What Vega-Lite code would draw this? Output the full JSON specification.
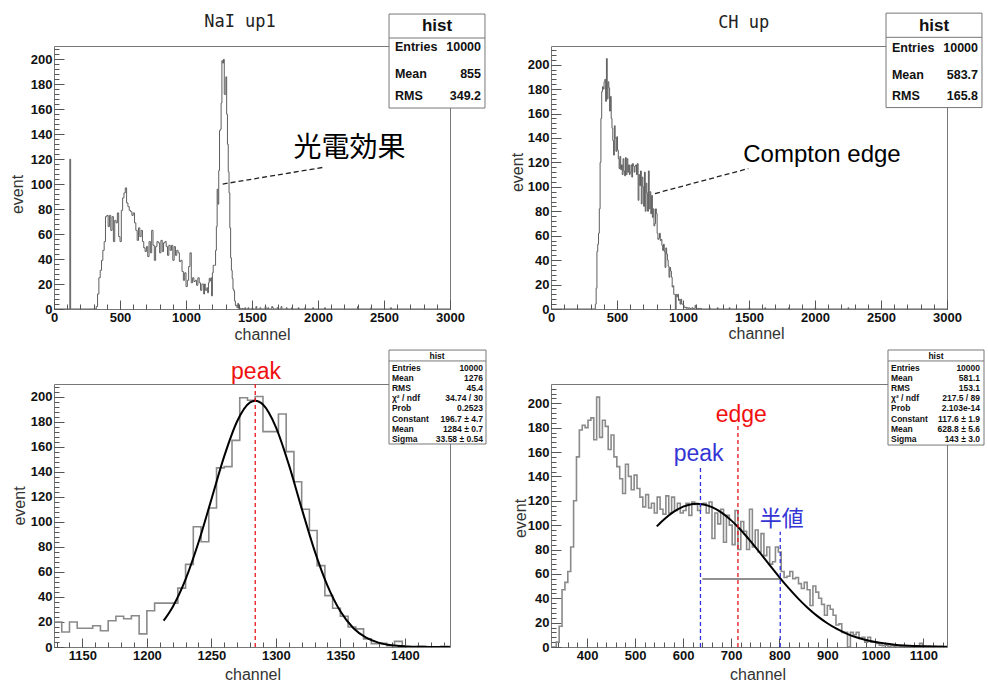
{
"$schema":"https://vega.github.io/schema/vega-lite/v6.json",
"background":"white",
"padding":{"left":8,"top":12,"right":0,"bottom":0},
"datasets":{
"nai":[{"x":0,"n":0},{"x":120,"n":120},{"x":126,"n":0},{"x":320,"n":2},{"x":330,"n":12},{"x":340,"n":25},{"x":350,"n":31},{"x":360,"n":39},{"x":370,"n":47},{"x":380,"n":54},{"x":390,"n":74},{"x":400,"n":75},{"x":410,"n":66},{"x":420,"n":75},{"x":430,"n":63},{"x":440,"n":74},{"x":450,"n":54},{"x":460,"n":71},{"x":470,"n":69},{"x":480,"n":77},{"x":490,"n":58},{"x":500,"n":54},{"x":510,"n":79},{"x":520,"n":89},{"x":530,"n":93},{"x":540,"n":97},{"x":550,"n":85},{"x":560,"n":82},{"x":570,"n":79},{"x":580,"n":78},{"x":590,"n":75},{"x":600,"n":77},{"x":610,"n":69},{"x":620,"n":63},{"x":630,"n":55},{"x":640,"n":65},{"x":650,"n":58},{"x":660,"n":63},{"x":670,"n":54},{"x":680,"n":49},{"x":690,"n":46},{"x":700,"n":50},{"x":710,"n":42},{"x":720,"n":54},{"x":730,"n":45},{"x":740,"n":63},{"x":750,"n":51},{"x":760,"n":39},{"x":770,"n":50},{"x":780,"n":54},{"x":790,"n":53},{"x":800,"n":45},{"x":810,"n":55},{"x":820,"n":46},{"x":830,"n":53},{"x":840,"n":54},{"x":850,"n":50},{"x":860,"n":43},{"x":870,"n":51},{"x":880,"n":47},{"x":890,"n":51},{"x":900,"n":39},{"x":910,"n":50},{"x":920,"n":43},{"x":930,"n":47},{"x":940,"n":45},{"x":950,"n":38},{"x":960,"n":39},{"x":970,"n":30},{"x":980,"n":23},{"x":990,"n":29},{"x":1000,"n":18},{"x":1010,"n":23},{"x":1020,"n":34},{"x":1030,"n":45},{"x":1040,"n":21},{"x":1050,"n":25},{"x":1060,"n":22},{"x":1070,"n":23},{"x":1080,"n":19},{"x":1090,"n":25},{"x":1100,"n":21},{"x":1110,"n":15},{"x":1120,"n":20},{"x":1128,"n":20},{"x":1134,"n":12},{"x":1140,"n":20},{"x":1146,"n":15},{"x":1152,"n":15},{"x":1158,"n":17},{"x":1164,"n":13},{"x":1170,"n":21},{"x":1176,"n":24.5},{"x":1182,"n":22.5},{"x":1188,"n":25},{"x":1194,"n":10.5},{"x":1200,"n":29},{"x":1206,"n":35},{"x":1212,"n":35},{"x":1218,"n":35},{"x":1224,"n":47},{"x":1230,"n":66},{"x":1236,"n":96},{"x":1242,"n":84},{"x":1248,"n":111},{"x":1254,"n":143},{"x":1260,"n":144},{"x":1266,"n":165},{"x":1272,"n":199},{"x":1278,"n":197},{"x":1284,"n":200},{"x":1290,"n":172},{"x":1296,"n":172},{"x":1302,"n":186},{"x":1308,"n":156},{"x":1314,"n":132},{"x":1320,"n":110},{"x":1326,"n":93},{"x":1332,"n":65},{"x":1338,"n":41},{"x":1344,"n":31},{"x":1350,"n":24.5},{"x":1356,"n":16},{"x":1362,"n":14.5},{"x":1368,"n":6.5},{"x":1374,"n":2.7},{"x":1380,"n":3},{"x":1386,"n":1},{"x":1392,"n":4.5},{"x":1398,"n":0.5},{"x":1404,"n":0},{"x":1410,"n":0.5},{"x":1416,"n":0},{"x":1428,"n":0.5},{"x":1434,"n":0},{"x":1446,"n":1},{"x":1452,"n":0},{"x":1470,"n":1},{"x":1476,"n":0},{"x":1500,"n":1},{"x":1506,"n":0},{"x":1530,"n":2},{"x":1536,"n":0},{"x":1560,"n":1},{"x":1566,"n":0},{"x":1600,"n":2},{"x":1606,"n":0},{"x":1620,"n":1},{"x":1626,"n":0},{"x":1650,"n":2},{"x":1656,"n":1},{"x":1662,"n":0},{"x":1690,"n":1},{"x":1696,"n":0},{"x":1720,"n":2},{"x":1726,"n":0},{"x":1760,"n":1},{"x":1766,"n":0},{"x":1800,"n":1},{"x":1806,"n":0},{"x":1850,"n":1},{"x":1856,"n":0},{"x":1900,"n":1},{"x":1906,"n":0},{"x":1960,"n":1},{"x":1966,"n":0},{"x":2050,"n":1},{"x":2056,"n":0},{"x":2300,"n":2},{"x":2306,"n":0},{"x":2400,"n":1},{"x":2406,"n":0},{"x":2550,"n":1},{"x":2556,"n":0},{"x":3000,"n":0}],
"ch":[{"x":0,"n":0},{"x":336,"n":4},{"x":342,"n":17},{"x":348,"n":47},{"x":354,"n":53},{"x":360,"n":62},{"x":366,"n":82},{"x":372,"n":120},{"x":378,"n":156},{"x":384,"n":178},{"x":390,"n":182},{"x":396,"n":180},{"x":402,"n":186},{"x":408,"n":188},{"x":414,"n":170},{"x":420,"n":205},{"x":426,"n":172},{"x":432,"n":186},{"x":438,"n":181},{"x":444,"n":162},{"x":450,"n":174},{"x":456,"n":156},{"x":462,"n":148},{"x":468,"n":138},{"x":474,"n":126},{"x":480,"n":150},{"x":486,"n":140},{"x":492,"n":129},{"x":498,"n":141},{"x":504,"n":130},{"x":510,"n":123},{"x":516,"n":115},{"x":522,"n":125},{"x":528,"n":114},{"x":534,"n":118},{"x":540,"n":110},{"x":546,"n":123},{"x":552,"n":113},{"x":558,"n":109},{"x":564,"n":124},{"x":570,"n":110},{"x":576,"n":123},{"x":582,"n":112},{"x":588,"n":118},{"x":594,"n":110},{"x":600,"n":112},{"x":606,"n":118},{"x":612,"n":108},{"x":618,"n":119},{"x":624,"n":117},{"x":630,"n":112},{"x":636,"n":117},{"x":642,"n":118},{"x":648,"n":110},{"x":654,"n":119},{"x":660,"n":89},{"x":666,"n":110},{"x":672,"n":101},{"x":678,"n":113},{"x":684,"n":86},{"x":690,"n":108},{"x":696,"n":100},{"x":702,"n":84},{"x":708,"n":112},{"x":714,"n":80},{"x":720,"n":103},{"x":726,"n":95},{"x":732,"n":80},{"x":738,"n":113},{"x":744,"n":82},{"x":750,"n":96},{"x":756,"n":78},{"x":762,"n":93},{"x":768,"n":75},{"x":774,"n":82},{"x":780,"n":68},{"x":786,"n":70},{"x":792,"n":82},{"x":798,"n":78},{"x":804,"n":62},{"x":810,"n":57},{"x":816,"n":58},{"x":822,"n":62},{"x":828,"n":56},{"x":834,"n":57},{"x":840,"n":52},{"x":846,"n":48},{"x":852,"n":53},{"x":858,"n":47},{"x":864,"n":34},{"x":870,"n":50},{"x":876,"n":45},{"x":882,"n":40},{"x":888,"n":35},{"x":894,"n":26},{"x":900,"n":34},{"x":906,"n":31},{"x":912,"n":26},{"x":918,"n":18},{"x":924,"n":19},{"x":930,"n":12},{"x":936,"n":12},{"x":942,"n":0},{"x":948,"n":12},{"x":954,"n":10},{"x":960,"n":12},{"x":966,"n":7},{"x":972,"n":8},{"x":978,"n":4},{"x":984,"n":8},{"x":990,"n":4},{"x":996,"n":4},{"x":1002,"n":3},{"x":1008,"n":1.5},{"x":1014,"n":1},{"x":1020,"n":1.5},{"x":1026,"n":0.5},{"x":1032,"n":1},{"x":1038,"n":0.5},{"x":1044,"n":1},{"x":1050,"n":0.5},{"x":1062,"n":0},{"x":1068,"n":1},{"x":1074,"n":0.5},{"x":1080,"n":0},{"x":1086,"n":0.5},{"x":1092,"n":3},{"x":1098,"n":0.5},{"x":1104,"n":0},{"x":1110,"n":0.5},{"x":1116,"n":0},{"x":1122,"n":0.5},{"x":1128,"n":0},{"x":1134,"n":0.5},{"x":1140,"n":0},{"x":1200,"n":1},{"x":1206,"n":0},{"x":1260,"n":1},{"x":1266,"n":0},{"x":1350,"n":1},{"x":1356,"n":0},{"x":1500,"n":1},{"x":1506,"n":0},{"x":1620,"n":1},{"x":1626,"n":0},{"x":1800,"n":1},{"x":1806,"n":0},{"x":2000,"n":1},{"x":2006,"n":0},{"x":2250,"n":1},{"x":2256,"n":0},{"x":3000,"n":0}],
"naifit":[{"x":1213,"f":21.0},{"x":1220,"f":32.0},{"x":1230,"f":54.0},{"x":1240,"f":83.4},{"x":1250,"f":117.8},{"x":1260,"f":152.4},{"x":1270,"f":180.3},{"x":1280,"f":195.3},{"x":1284,"f":196.7},{"x":1290,"f":193.6},{"x":1300,"f":175.6},{"x":1310,"f":145.8},{"x":1320,"f":110.7},{"x":1330,"f":77.0},{"x":1340,"f":49.0},{"x":1350,"f":28.5},{"x":1360,"f":15.2},{"x":1370,"f":7.4},{"x":1380,"f":3.3},{"x":1390,"f":1.35},{"x":1400,"f":0.5},{"x":1410,"f":0.17},{"x":1420,"f":0.05},{"x":1435,"f":0.01}],
"chfit":[{"x":545,"f":99.0},{"x":560,"f":104.7},{"x":580,"f":110.9},{"x":600,"f":115.2},{"x":620,"f":117.4},{"x":628.8,"f":117.6},{"x":640,"f":117.2},{"x":660,"f":114.8},{"x":680,"f":110.3},{"x":700,"f":103.9},{"x":720,"f":96.0},{"x":740,"f":86.9},{"x":760,"f":77.2},{"x":780,"f":67.2},{"x":800,"f":57.4},{"x":820,"f":48.1},{"x":840,"f":39.5},{"x":860,"f":31.8},{"x":880,"f":25.1},{"x":900,"f":19.5},{"x":920,"f":14.8},{"x":940,"f":11.0},{"x":960,"f":8.0},{"x":980,"f":5.76},{"x":1000,"f":4.05},{"x":1020,"f":2.79},{"x":1040,"f":1.89},{"x":1060,"f":1.25},{"x":1080,"f":0.81},{"x":1100,"f":0.52},{"x":1120,"f":0.32},{"x":1149,"f":0.16}]
},
"columns":2,
"spacing":{"row":75,"column":101},
"bounds":"flush",
"concat":[
{
"width":396,"height":263,
"resolve":{"axis":{"x":"independent","y":"independent"}},
"layer":[
{"data":{"name":"nai"},"mark":{"type":"line","interpolate":"step-after","stroke":"#5e5e5e","strokeWidth":1,"clip":true},
 "encoding":{"x":{"field":"x","type":"quantitative","scale":{"domain":[0,3000],"nice":false,"zero":false},"axis":{"orient":"bottom","values":[0,500,1000,1500,2000,2500,3000],"format":"d","tickSize":-9,"labelPadding":11,"title":"channel","titleX":208,"titleY":25,"titleBaseline":"middle"}},
  "y":{"field":"n","type":"quantitative","scale":{"domain":[0,210.7],"nice":false,"zero":false},"axis":{"orient":"left","values":[0,20,40,60,80,100,120,140,160,180,200],"format":"d","tickSize":-10,"labelPadding":12,"title":"event","titleX":-37,"titleY":148,"titleBaseline":"middle","titleAngle":-90}}}},
{"data":{"values":[{"a":2538,"b":3265,"c":161,"d":236.3}]},"mark":{"type":"rect","fill":"white","stroke":"#777","strokeWidth":1},
 "encoding":{"x":{"field":"a","type":"quantitative","scale":{"domain":[0,3000],"nice":false,"zero":false},"axis":{"orient":"bottom","values":[0,100,200,300,400,500,600,700,800,900,1000,1100,1200,1300,1400,1500,1600,1700,1800,1900,2000,2100,2200,2300,2400,2500,2600,2700,2800,2900,3000],"labels":false,"tickSize":-5,"title":null}},"x2":{"field":"b"},
  "y":{"field":"c","type":"quantitative","scale":{"domain":[0,210.7],"nice":false,"zero":false},"axis":{"orient":"left","values":[0,4,8,12,16,20,24,28,32,36,40,44,48,52,56,60,64,68,72,76,80,84,88,92,96,100,104,108,112,116,120,124,128,132,136,140,144,148,152,156,160,164,168,172,176,180,184,188,192,196,200,204,208],"labels":false,"tickSize":-5,"title":null}},"y2":{"field":"d"}}},
{"data":{"values":[{"a":2538,"b":3265,"c":217.1}]},"mark":{"type":"rule","stroke":"#777"},
 "encoding":{"x":{"field":"a","type":"quantitative","scale":{"domain":[0,3000],"nice":false,"zero":false},"axis":null},"x2":{"field":"b"},"y":{"field":"c","type":"quantitative","scale":{"domain":[0,210.7],"nice":false,"zero":false},"axis":null}}},
{"data":{"values":[{"a":2902,"c":226.7,"t":"hist"}]},"mark":{"type":"text","font":"Liberation Sans","fontWeight":"bold","fontSize":17,"align":"center","baseline":"middle","color":"#111"},
 "encoding":{"x":{"field":"a","type":"quantitative","scale":{"domain":[0,3000],"nice":false,"zero":false},"axis":null},"y":{"field":"c","type":"quantitative","scale":{"domain":[0,210.7],"nice":false,"zero":false},"axis":null},"text":{"field":"t"}}},
{"data":{"values":[{"a":2583,"c":209.9,"t":"Entries"},{"a":2583,"c":188.2,"t":"Mean"},{"a":2583,"c":170.6,"t":"RMS"}]},"mark":{"type":"text","font":"Liberation Sans","fontWeight":"bold","fontSize":12.5,"align":"left","baseline":"middle","color":"#111"},
 "encoding":{"x":{"field":"a","type":"quantitative","scale":{"domain":[0,3000],"nice":false,"zero":false},"axis":null},"y":{"field":"c","type":"quantitative","scale":{"domain":[0,210.7],"nice":false,"zero":false},"axis":null},"text":{"field":"t"}}},
{"data":{"values":[{"a":3235,"c":209.9,"t":"10000"},{"a":3235,"c":188.2,"t":"855"},{"a":3235,"c":170.6,"t":"349.2"}]},"mark":{"type":"text","font":"Liberation Sans","fontWeight":"bold","fontSize":12.5,"align":"right","baseline":"middle","color":"#111"},
 "encoding":{"x":{"field":"a","type":"quantitative","scale":{"domain":[0,3000],"nice":false,"zero":false},"axis":null},"y":{"field":"c","type":"quantitative","scale":{"domain":[0,210.7],"nice":false,"zero":false},"axis":null},"text":{"field":"t"}}},
{"data":{"values":[{"a":1409,"c":229.9,"t":"NaI up1"}]},"mark":{"type":"text","font":"DejaVu Sans Mono","fontSize":17,"align":"center","baseline":"middle","color":"#222"},
 "encoding":{"x":{"field":"a","type":"quantitative","scale":{"domain":[0,3000],"nice":false,"zero":false},"axis":null},"y":{"field":"c","type":"quantitative","scale":{"domain":[0,210.7],"nice":false,"zero":false},"axis":null},"text":{"field":"t"}}},
{"data":{"values":[{"a":1278,"c":100.1,"b":2040,"d":113.5}]},"mark":{"type":"rule","stroke":"#222","strokeWidth":1.3,"strokeDash":[5,3]},
 "encoding":{"x":{"field":"a","type":"quantitative","scale":{"domain":[0,3000],"nice":false,"zero":false},"axis":null},"x2":{"field":"b"},"y":{"field":"c","type":"quantitative","scale":{"domain":[0,210.7],"nice":false,"zero":false},"axis":null},"y2":{"field":"d"}}},
{"data":{"values":[{"a":2238,"c":128.4,"t":"光電効果"}]},"mark":{"type":"text","font":"Noto Sans CJK JP","fontSize":28,"align":"center","baseline":"middle","color":"#000"},
 "encoding":{"x":{"field":"a","type":"quantitative","scale":{"domain":[0,3000],"nice":false,"zero":false},"axis":null},"y":{"field":"c","type":"quantitative","scale":{"domain":[0,210.7],"nice":false,"zero":false},"axis":null},"text":{"field":"t"}}}
]
},
{
"width":396,"height":263,
"resolve":{"axis":{"x":"independent","y":"independent"}},
"layer":[
{"data":{"name":"ch"},"mark":{"type":"line","interpolate":"step-after","stroke":"#5e5e5e","strokeWidth":1,"clip":true},
 "encoding":{"x":{"field":"x","type":"quantitative","scale":{"domain":[0,3000],"nice":false,"zero":false},"axis":{"orient":"bottom","values":[0,500,1000,1500,2000,2500,3000],"format":"d","tickSize":-9,"labelPadding":11,"title":"channel","titleX":205,"titleY":24,"titleBaseline":"middle"}},
  "y":{"field":"n","type":"quantitative","scale":{"domain":[0,215.3],"nice":false,"zero":false},"axis":{"orient":"left","values":[0,20,40,60,80,100,120,140,160,180,200],"format":"d","tickSize":-10,"labelPadding":12,"title":"event","titleX":-34,"titleY":126,"titleBaseline":"middle","titleAngle":-90}}}},
{"data":{"values":[{"a":2538,"b":3265,"c":164.9,"d":242.2}]},"mark":{"type":"rect","fill":"white","stroke":"#777","strokeWidth":1},
 "encoding":{"x":{"field":"a","type":"quantitative","scale":{"domain":[0,3000],"nice":false,"zero":false},"axis":{"orient":"bottom","values":[0,100,200,300,400,500,600,700,800,900,1000,1100,1200,1300,1400,1500,1600,1700,1800,1900,2000,2100,2200,2300,2400,2500,2600,2700,2800,2900,3000],"labels":false,"tickSize":-5,"title":null}},"x2":{"field":"b"},
  "y":{"field":"c","type":"quantitative","scale":{"domain":[0,215.3],"nice":false,"zero":false},"axis":{"orient":"left","values":[0,4,8,12,16,20,24,28,32,36,40,44,48,52,56,60,64,68,72,76,80,84,88,92,96,100,104,108,112,116,120,124,128,132,136,140,144,148,152,156,160,164,168,172,176,180,184,188,192,196,200,204,208,212],"labels":false,"tickSize":-5,"title":null}},"y2":{"field":"d"}}},
{"data":{"values":[{"a":2538,"b":3265,"c":222.4}]},"mark":{"type":"rule","stroke":"#777"},
 "encoding":{"x":{"field":"a","type":"quantitative","scale":{"domain":[0,3000],"nice":false,"zero":false},"axis":null},"x2":{"field":"b"},"y":{"field":"c","type":"quantitative","scale":{"domain":[0,215.3],"nice":false,"zero":false},"axis":null}}},
{"data":{"values":[{"a":2902,"c":231.5,"t":"hist"}]},"mark":{"type":"text","font":"Liberation Sans","fontWeight":"bold","fontSize":17,"align":"center","baseline":"middle","color":"#111"},
 "encoding":{"x":{"field":"a","type":"quantitative","scale":{"domain":[0,3000],"nice":false,"zero":false},"axis":null},"y":{"field":"c","type":"quantitative","scale":{"domain":[0,215.3],"nice":false,"zero":false},"axis":null},"text":{"field":"t"}}},
{"data":{"values":[{"a":2583,"c":213.4,"t":"Entries"},{"a":2583,"c":191.2,"t":"Mean"},{"a":2583,"c":174.0,"t":"RMS"}]},"mark":{"type":"text","font":"Liberation Sans","fontWeight":"bold","fontSize":12.5,"align":"left","baseline":"middle","color":"#111"},
 "encoding":{"x":{"field":"a","type":"quantitative","scale":{"domain":[0,3000],"nice":false,"zero":false},"axis":null},"y":{"field":"c","type":"quantitative","scale":{"domain":[0,215.3],"nice":false,"zero":false},"axis":null},"text":{"field":"t"}}},
{"data":{"values":[{"a":3235,"c":213.4,"t":"10000"},{"a":3235,"c":191.2,"t":"583.7"},{"a":3235,"c":174.0,"t":"165.8"}]},"mark":{"type":"text","font":"Liberation Sans","fontWeight":"bold","fontSize":12.5,"align":"right","baseline":"middle","color":"#111"},
 "encoding":{"x":{"field":"a","type":"quantitative","scale":{"domain":[0,3000],"nice":false,"zero":false},"axis":null},"y":{"field":"c","type":"quantitative","scale":{"domain":[0,215.3],"nice":false,"zero":false},"axis":null},"text":{"field":"t"}}},
{"data":{"values":[{"a":1460,"c":233.9,"t":"CH up"}]},"mark":{"type":"text","font":"DejaVu Sans Mono","fontSize":17,"align":"center","baseline":"middle","color":"#222"},
 "encoding":{"x":{"field":"a","type":"quantitative","scale":{"domain":[0,3000],"nice":false,"zero":false},"axis":null},"y":{"field":"c","type":"quantitative","scale":{"domain":[0,215.3],"nice":false,"zero":false},"axis":null},"text":{"field":"t"}}},
{"data":{"values":[{"a":788,"c":94.5,"b":1495,"d":115.0}]},"mark":{"type":"rule","stroke":"#222","strokeWidth":1.3,"strokeDash":[5,3]},
 "encoding":{"x":{"field":"a","type":"quantitative","scale":{"domain":[0,3000],"nice":false,"zero":false},"axis":null},"x2":{"field":"b"},"y":{"field":"c","type":"quantitative","scale":{"domain":[0,215.3],"nice":false,"zero":false},"axis":null},"y2":{"field":"d"}}},
{"data":{"values":[{"a":2053,"c":126.3,"t":"Compton edge"}]},"mark":{"type":"text","font":"Liberation Sans","fontSize":24,"align":"center","baseline":"middle","color":"#000"},
 "encoding":{"x":{"field":"a","type":"quantitative","scale":{"domain":[0,3000],"nice":false,"zero":false},"axis":null},"y":{"field":"c","type":"quantitative","scale":{"domain":[0,215.3],"nice":false,"zero":false},"axis":null},"text":{"field":"t"}}}
]
},
{
"width":396,"height":263,
"resolve":{"axis":{"x":"independent","y":"independent"}},
"layer":[
{"data":{"name":"nai"},"mark":{"type":"line","interpolate":"step-after","stroke":"#8a8a8a","strokeWidth":1.6,"clip":true},
 "encoding":{"x":{"field":"x","type":"quantitative","scale":{"domain":[1128,1435],"nice":false,"zero":false},"axis":{"orient":"bottom","values":[1150,1200,1250,1300,1350,1400],"format":"d","tickSize":-9,"labelPadding":11,"title":"channel","titleX":198.5,"titleY":27,"titleBaseline":"middle"}},
  "y":{"field":"n","type":"quantitative","scale":{"domain":[0,210],"nice":false,"zero":false},"axis":{"orient":"left","values":[0,20,40,60,80,100,120,140,160,180,200],"format":"d","tickSize":-10,"labelPadding":12,"title":"event","titleX":-35,"titleY":121.5,"titleBaseline":"middle","titleAngle":-90}}}},
{"data":{"name":"naifit"},"mark":{"type":"line","interpolate":"monotone","stroke":"#000","strokeWidth":2,"clip":true},
 "encoding":{"x":{"field":"x","type":"quantitative","scale":{"domain":[1128,1435],"nice":false,"zero":false},"axis":null},"y":{"field":"f","type":"quantitative","scale":{"domain":[0,210],"nice":false,"zero":false},"axis":null}}},
{"data":{"values":[{"a":1284,"c":0,"d":211}]},"mark":{"type":"rule","stroke":"#e8141c","strokeWidth":1.3,"strokeDash":[4,3]},
 "encoding":{"x":{"field":"a","type":"quantitative","scale":{"domain":[1128,1435],"nice":false,"zero":false},"axis":null},"y":{"field":"c","type":"quantitative","scale":{"domain":[0,210],"nice":false,"zero":false},"axis":null},"y2":{"field":"d"}}},
{"data":{"values":[{"a":1284.6,"c":219.6,"t":"peak"}]},"mark":{"type":"text","font":"Liberation Sans","fontSize":23,"align":"center","baseline":"middle","color":"#f01010"},
 "encoding":{"x":{"field":"a","type":"quantitative","scale":{"domain":[1128,1435],"nice":false,"zero":false},"axis":null},"y":{"field":"c","type":"quantitative","scale":{"domain":[0,210],"nice":false,"zero":false},"axis":null},"text":{"field":"t"}}},
{"data":{"values":[{"a":1387.7,"b":1462.9,"c":162.1,"d":237.1}]},"mark":{"type":"rect","fill":"white","stroke":"#777","strokeWidth":1},
 "encoding":{"x":{"field":"a","type":"quantitative","scale":{"domain":[1128,1435],"nice":false,"zero":false},"axis":{"orient":"bottom","values":[1130,1140,1150,1160,1170,1180,1190,1200,1210,1220,1230,1240,1250,1260,1270,1280,1290,1300,1310,1320,1330,1340,1350,1360,1370,1380,1390,1400,1410,1420,1430],"labels":false,"tickSize":-5,"title":null}},"x2":{"field":"b"},
  "y":{"field":"c","type":"quantitative","scale":{"domain":[0,210],"nice":false,"zero":false},"axis":{"orient":"left","values":[0,4,8,12,16,20,24,28,32,36,40,44,48,52,56,60,64,68,72,76,80,84,88,92,96,100,104,108,112,116,120,124,128,132,136,140,144,148,152,156,160,164,168,172,176,180,184,188,192,196,200,204,208],"labels":false,"tickSize":-5,"title":null}},"y2":{"field":"d"}}},
{"data":{"values":[{"a":1387.7,"b":1462.9,"c":228.4}]},"mark":{"type":"rule","stroke":"#777"},
 "encoding":{"x":{"field":"a","type":"quantitative","scale":{"domain":[1128,1435],"nice":false,"zero":false},"axis":null},"x2":{"field":"b"},"y":{"field":"c","type":"quantitative","scale":{"domain":[0,210],"nice":false,"zero":false},"axis":null}}},
{"data":{"values":[{"a":1425,"c":232.4,"t":"hist"}]},"mark":{"type":"text","font":"Liberation Sans","fontWeight":"bold","fontSize":8.5,"align":"center","baseline":"middle","color":"#111"},
 "encoding":{"x":{"field":"a","type":"quantitative","scale":{"domain":[1128,1435],"nice":false,"zero":false},"axis":null},"y":{"field":"c","type":"quantitative","scale":{"domain":[0,210],"nice":false,"zero":false},"axis":null},"text":{"field":"t"}}},
{"data":{"values":[{"a":1390,"c":222.8,"t":"Entries"},{"a":1390,"c":214.8,"t":"Mean"},{"a":1390,"c":206.8,"t":"RMS"},{"a":1390,"c":198.8,"t":"χ² / ndf"},{"a":1390,"c":190.8,"t":"Prob"},{"a":1390,"c":182.1,"t":"Constant"},{"a":1390,"c":174.1,"t":"Mean"},{"a":1390,"c":166.1,"t":"Sigma"}]},"mark":{"type":"text","font":"Liberation Sans","fontWeight":"bold","fontSize":8.5,"align":"left","baseline":"middle","color":"#111"},
 "encoding":{"x":{"field":"a","type":"quantitative","scale":{"domain":[1128,1435],"nice":false,"zero":false},"axis":null},"y":{"field":"c","type":"quantitative","scale":{"domain":[0,210],"nice":false,"zero":false},"axis":null},"text":{"field":"t"}}},
{"data":{"values":[{"a":1460.6,"c":222.8,"t":"10000"},{"a":1460.6,"c":214.8,"t":"1276"},{"a":1460.6,"c":206.8,"t":"45.4"},{"a":1460.6,"c":198.8,"t":"34.74 / 30"},{"a":1460.6,"c":190.8,"t":"0.2523"},{"a":1460.6,"c":182.1,"t":"196.7 ± 4.7"},{"a":1460.6,"c":174.1,"t":"1284 ± 0.7"},{"a":1460.6,"c":166.1,"t":"33.58 ± 0.54"}]},"mark":{"type":"text","font":"Liberation Sans","fontWeight":"bold","fontSize":8.5,"align":"right","baseline":"middle","color":"#111"},
 "encoding":{"x":{"field":"a","type":"quantitative","scale":{"domain":[1128,1435],"nice":false,"zero":false},"axis":null},"y":{"field":"c","type":"quantitative","scale":{"domain":[0,210],"nice":false,"zero":false},"axis":null},"text":{"field":"t"}}}
]
},
{
"width":396,"height":263,
"resolve":{"axis":{"x":"independent","y":"independent"}},
"layer":[
{"data":{"name":"ch"},"mark":{"type":"line","interpolate":"step-after","stroke":"#8a8a8a","strokeWidth":1.6,"clip":true},
 "encoding":{"x":{"field":"x","type":"quantitative","scale":{"domain":[325,1149],"nice":false,"zero":false},"axis":{"orient":"bottom","values":[400,500,600,700,800,900,1000,1100],"format":"d","tickSize":-9,"labelPadding":11,"title":"channel","titleX":206.5,"titleY":27,"titleBaseline":"middle"}},
  "y":{"field":"n","type":"quantitative","scale":{"domain":[0,215.8],"nice":false,"zero":false},"axis":{"orient":"left","values":[0,20,40,60,80,100,120,140,160,180,200],"format":"d","tickSize":-10,"labelPadding":12,"title":"event","titleX":-31,"titleY":134,"titleBaseline":"middle","titleAngle":-90}}}},
{"data":{"name":"chfit"},"mark":{"type":"line","interpolate":"monotone","stroke":"#000","strokeWidth":2,"clip":true},
 "encoding":{"x":{"field":"x","type":"quantitative","scale":{"domain":[325,1149],"nice":false,"zero":false},"axis":null},"y":{"field":"f","type":"quantitative","scale":{"domain":[0,215.8],"nice":false,"zero":false},"axis":null}}},
{"data":{"values":[{"a":636,"c":0,"d":149.3},{"a":802,"c":0,"d":94.6}]},"mark":{"type":"rule","stroke":"#3030e0","strokeWidth":1.3,"strokeDash":[4,3]},
 "encoding":{"x":{"field":"a","type":"quantitative","scale":{"domain":[325,1149],"nice":false,"zero":false},"axis":null},"y":{"field":"c","type":"quantitative","scale":{"domain":[0,215.8],"nice":false,"zero":false},"axis":null},"y2":{"field":"d"}}},
{"data":{"values":[{"a":714,"c":0,"d":183.5}]},"mark":{"type":"rule","stroke":"#e8141c","strokeWidth":1.3,"strokeDash":[4,3]},
 "encoding":{"x":{"field":"a","type":"quantitative","scale":{"domain":[325,1149],"nice":false,"zero":false},"axis":null},"y":{"field":"c","type":"quantitative","scale":{"domain":[0,215.8],"nice":false,"zero":false},"axis":null},"y2":{"field":"d"}}},
{"data":{"values":[{"a":640,"b":802,"c":55.8}]},"mark":{"type":"rule","stroke":"#222","strokeWidth":1.2},
 "encoding":{"x":{"field":"a","type":"quantitative","scale":{"domain":[325,1149],"nice":false,"zero":false},"axis":null},"x2":{"field":"b"},"y":{"field":"c","type":"quantitative","scale":{"domain":[0,215.8],"nice":false,"zero":false},"axis":null}}},
{"data":{"values":[{"a":632.3,"c":158.1,"t":"peak"}]},"mark":{"type":"text","font":"Liberation Sans","fontSize":23,"align":"center","baseline":"middle","color":"#3535d5"},
 "encoding":{"x":{"field":"a","type":"quantitative","scale":{"domain":[325,1149],"nice":false,"zero":false},"axis":null},"y":{"field":"c","type":"quantitative","scale":{"domain":[0,215.8],"nice":false,"zero":false},"axis":null},"text":{"field":"t"}}},
{"data":{"values":[{"a":721,"c":190.4,"t":"edge"}]},"mark":{"type":"text","font":"Liberation Sans","fontSize":23,"align":"center","baseline":"middle","color":"#f01010"},
 "encoding":{"x":{"field":"a","type":"quantitative","scale":{"domain":[325,1149],"nice":false,"zero":false},"axis":null},"y":{"field":"c","type":"quantitative","scale":{"domain":[0,215.8],"nice":false,"zero":false},"axis":null},"text":{"field":"t"}}},
{"data":{"values":[{"a":805,"c":104.8,"t":"半値"}]},"mark":{"type":"text","font":"Noto Sans CJK JP","fontSize":22,"align":"center","baseline":"middle","color":"#3535d5"},
 "encoding":{"x":{"field":"a","type":"quantitative","scale":{"domain":[325,1149],"nice":false,"zero":false},"axis":null},"y":{"field":"c","type":"quantitative","scale":{"domain":[0,215.8],"nice":false,"zero":false},"axis":null},"text":{"field":"t"}}},
{"data":{"values":[{"a":1026.2,"b":1226,"c":165.7,"d":243.7}]},"mark":{"type":"rect","fill":"white","stroke":"#777","strokeWidth":1},
 "encoding":{"x":{"field":"a","type":"quantitative","scale":{"domain":[325,1149],"nice":false,"zero":false},"axis":{"orient":"bottom","values":[340,360,380,400,420,440,460,480,500,520,540,560,580,600,620,640,660,680,700,720,740,760,780,800,820,840,860,880,900,920,940,960,980,1000,1020,1040,1060,1080,1100,1120,1140],"labels":false,"tickSize":-5,"title":null}},"x2":{"field":"b"},
  "y":{"field":"c","type":"quantitative","scale":{"domain":[0,215.8],"nice":false,"zero":false},"axis":{"orient":"left","values":[0,4,8,12,16,20,24,28,32,36,40,44,48,52,56,60,64,68,72,76,80,84,88,92,96,100,104,108,112,116,120,124,128,132,136,140,144,148,152,156,160,164,168,172,176,180,184,188,192,196,200,204,208,212],"labels":false,"tickSize":-5,"title":null}},"y2":{"field":"d"}}},
{"data":{"values":[{"a":1026.2,"b":1226,"c":234.7}]},"mark":{"type":"rule","stroke":"#777"},
 "encoding":{"x":{"field":"a","type":"quantitative","scale":{"domain":[325,1149],"nice":false,"zero":false},"axis":null},"x2":{"field":"b"},"y":{"field":"c","type":"quantitative","scale":{"domain":[0,215.8],"nice":false,"zero":false},"axis":null}}},
{"data":{"values":[{"a":1126,"c":238.8,"t":"hist"}]},"mark":{"type":"text","font":"Liberation Sans","fontWeight":"bold","fontSize":8.5,"align":"center","baseline":"middle","color":"#111"},
 "encoding":{"x":{"field":"a","type":"quantitative","scale":{"domain":[325,1149],"nice":false,"zero":false},"axis":null},"y":{"field":"c","type":"quantitative","scale":{"domain":[0,215.8],"nice":false,"zero":false},"axis":null},"text":{"field":"t"}}},
{"data":{"values":[{"a":1032.5,"c":228.9,"t":"Entries"},{"a":1032.5,"c":220.7,"t":"Mean"},{"a":1032.5,"c":212.5,"t":"RMS"},{"a":1032.5,"c":204.3,"t":"χ² / ndf"},{"a":1032.5,"c":196.1,"t":"Prob"},{"a":1032.5,"c":187.1,"t":"Constant"},{"a":1032.5,"c":178.9,"t":"Mean"},{"a":1032.5,"c":170.7,"t":"Sigma"}]},"mark":{"type":"text","font":"Liberation Sans","fontWeight":"bold","fontSize":8.5,"align":"left","baseline":"middle","color":"#111"},
 "encoding":{"x":{"field":"a","type":"quantitative","scale":{"domain":[325,1149],"nice":false,"zero":false},"axis":null},"y":{"field":"c","type":"quantitative","scale":{"domain":[0,215.8],"nice":false,"zero":false},"axis":null},"text":{"field":"t"}}},
{"data":{"values":[{"a":1217.7,"c":228.9,"t":"10000"},{"a":1217.7,"c":220.7,"t":"581.1"},{"a":1217.7,"c":212.5,"t":"153.1"},{"a":1217.7,"c":204.3,"t":"217.5 / 89"},{"a":1217.7,"c":196.1,"t":"2.103e-14"},{"a":1217.7,"c":187.1,"t":"117.6 ± 1.9"},{"a":1217.7,"c":178.9,"t":"628.8 ± 5.6"},{"a":1217.7,"c":170.7,"t":"143 ± 3.0"}]},"mark":{"type":"text","font":"Liberation Sans","fontWeight":"bold","fontSize":8.5,"align":"right","baseline":"middle","color":"#111"},
 "encoding":{"x":{"field":"a","type":"quantitative","scale":{"domain":[325,1149],"nice":false,"zero":false},"axis":null},"y":{"field":"c","type":"quantitative","scale":{"domain":[0,215.8],"nice":false,"zero":false},"axis":null},"text":{"field":"t"}}}
]
}
],
"config":{
"view":{"stroke":"#777","strokeWidth":1},
"axis":{"domain":false,"grid":false,"tickColor":"#555","tickWidth":1,"labelFont":"Liberation Sans","labelFontWeight":"bold","labelFontSize":13,"labelColor":"#111","labelFlush":false,"labelOverlap":false,"titleFont":"Liberation Sans","titleFontWeight":"normal","titleFontSize":16,"titleColor":"#333"}
}
}
